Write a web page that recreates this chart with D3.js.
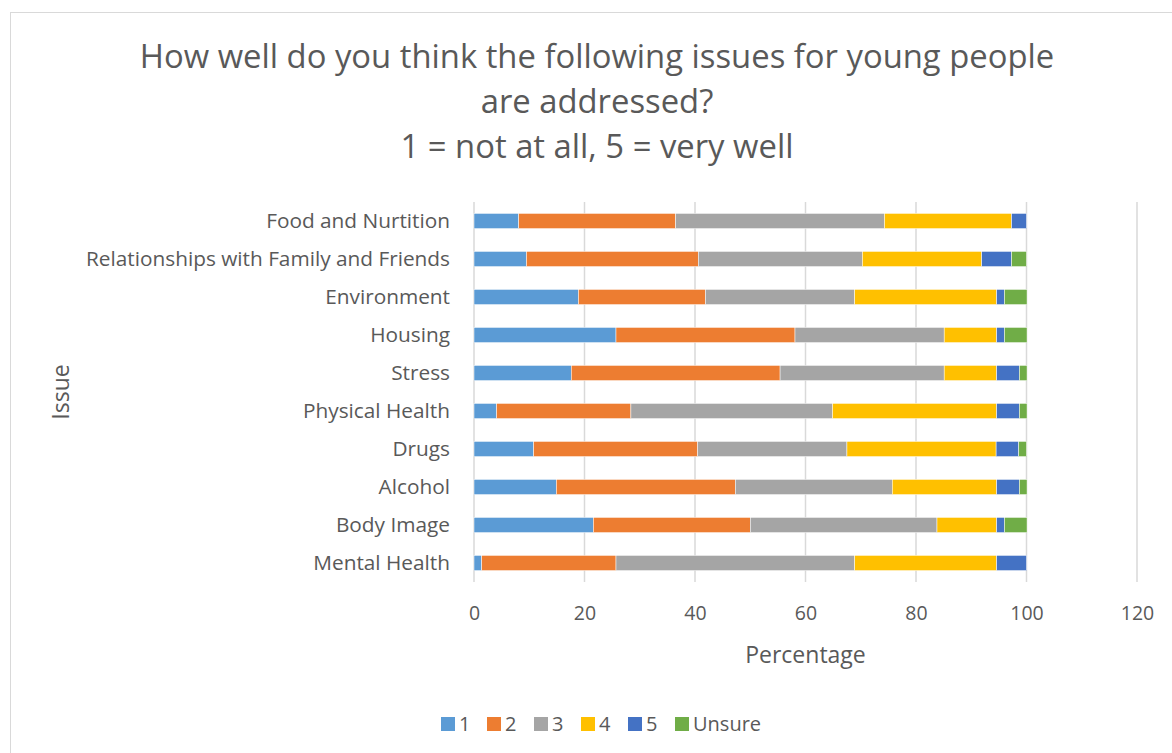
<!DOCTYPE html>
<html>
<head>
<meta charset="utf-8">
<script src="https://cdn.jsdelivr.net/npm/d3@7"></script>
<style>
  html, body { margin: 0; padding: 0; background: #fff; }
  svg { display: block; font-family: "Open Sans", Lato, sans-serif; }
</style>
</head>
<body>
<svg id="chart" width="1172" height="753"></svg>
<script>
// Survey responses (percent of respondents) for each issue, rated 1..5 or Unsure
const issues = [
  "Food and Nurtition",
  "Relationships with Family and Friends",
  "Environment",
  "Housing",
  "Stress",
  "Physical Health",
  "Drugs",
  "Alcohol",
  "Body Image",
  "Mental Health"
];
const seriesNames = ["1", "2", "3", "4", "5", "Unsure"];
const rating1 = [8.1, 9.5, 18.9, 25.7, 17.6, 4.1, 10.8, 14.9, 21.6, 1.4];
const rating2 = [28.4, 31.1, 23.0, 32.4, 37.8, 24.3, 29.7, 32.4, 28.4, 24.3];
const rating3 = [37.8, 29.7, 27.0, 27.0, 29.7, 36.5, 27.0, 28.4, 33.8, 43.2];
const rating4 = [23.0, 21.6, 25.7, 9.5, 9.5, 29.7, 27.0, 18.9, 10.8, 25.7];
const rating5 = [2.7, 5.4, 1.4, 1.4, 4.1, 4.1, 4.1, 4.1, 1.4, 5.4];
const unsure  = [0, 2.7, 4.1, 4.1, 1.4, 1.4, 1.4, 1.4, 4.1, 0];
const xTicks = [0, 20, 40, 60, 80, 100, 120];
const colors = ["#5B9BD5", "#ED7D31", "#A5A5A5", "#FFC000", "#4472C4", "#70AD47"];

const seriesValues = [rating1, rating2, rating3, rating4, rating5, unsure];
const rows = issues.map((name, i) => {
  const r = { issue: name };
  seriesNames.forEach((s, k) => { r[s] = seriesValues[k][i]; });
  return r;
});

const svg = d3.select("#chart");
const textColor = "#595959";
const font = "'Open Sans', Lato, sans-serif";

// chart frame
svg.append("rect")
  .attr("x", 10.5).attr("y", 12.5)
  .attr("width", 1200).attr("height", 800)
  .attr("fill", "#fff").attr("stroke", "#d9d9d9").attr("stroke-width", 1);

const plot = { left: 474, right: 1137, top: 202, bottom: 582 };

const x = d3.scaleLinear().domain([0, 120]).range([plot.left, plot.right]);
const y = d3.scaleBand().domain(issues).range([plot.top, plot.bottom])
  .paddingInner(0.6).paddingOuter(0.3);

// vertical gridlines
svg.append("g")
  .selectAll("line").data(xTicks).join("line")
  .attr("x1", d => x(d)).attr("x2", d => x(d))
  .attr("y1", plot.top).attr("y2", plot.bottom)
  .attr("stroke", "#d9d9d9").attr("stroke-width", 1.5);

// stacked bars
const stack = d3.stack().keys(seriesNames)(rows);
svg.append("g")
  .selectAll("g").data(stack).join("g")
  .attr("fill", (d, i) => colors[i])
  .selectAll("rect").data(d => d).join("rect")
  .attr("x", d => x(d[0]))
  .attr("y", d => y(d.data.issue))
  .attr("width", d => Math.max(0, x(d[1]) - x(d[0])))
  .attr("height", y.bandwidth())
  .attr("stroke", "#fff").attr("stroke-width", 0.5);

// x axis labels
const xAxis = svg.append("g")
  .attr("transform", `translate(0,${plot.bottom})`)
  .call(d3.axisBottom(x).tickValues(xTicks).tickSize(0).tickPadding(24));
xAxis.select(".domain").remove();
xAxis.selectAll("text")
  .attr("fill", textColor).style("font-size", "19.5px")
  .style("font-family", font);

// y axis labels
const yAxis = svg.append("g")
  .attr("transform", `translate(${plot.left},0)`)
  .call(d3.axisLeft(y).tickSize(0).tickPadding(24));
yAxis.select(".domain").remove();
yAxis.selectAll("text")
  .attr("fill", textColor).style("font-size", "20.8px")
  .style("font-family", font);

// axis titles
svg.append("text")
  .attr("x", (plot.left + plot.right) / 2).attr("y", 663)
  .attr("text-anchor", "middle").attr("fill", textColor)
  .style("font-size", "23px").text("Percentage");

svg.append("text")
  .attr("transform", `translate(69,${(plot.top + plot.bottom) / 2}) rotate(-90)`)
  .attr("text-anchor", "middle").attr("fill", textColor)
  .style("font-size", "23px").text("Issue");

// title
const titleLines = [
  "How well do you think the following issues for young people",
  "are addressed?",
  "1 = not at all, 5 = very well"
];
svg.append("g").selectAll("text").data(titleLines).join("text")
  .attr("x", 597).attr("y", (d, i) => 68 + i * 45)
  .attr("text-anchor", "middle").attr("fill", textColor)
  .style("font-size", "32.8px").text(d => d);

// legend
const legendX = [441, 487, 534, 581, 628, 675];
const legend = svg.append("g").selectAll("g").data(seriesNames).join("g")
  .attr("transform", (d, i) => `translate(${legendX[i]},717)`);
legend.append("rect").attr("width", 14).attr("height", 14)
  .attr("fill", (d, i) => colors[i]);
legend.append("text").attr("x", 18).attr("y", 14)
  .attr("fill", textColor).style("font-size", "20px").text(d => d);
</script>
</body>
</html>
